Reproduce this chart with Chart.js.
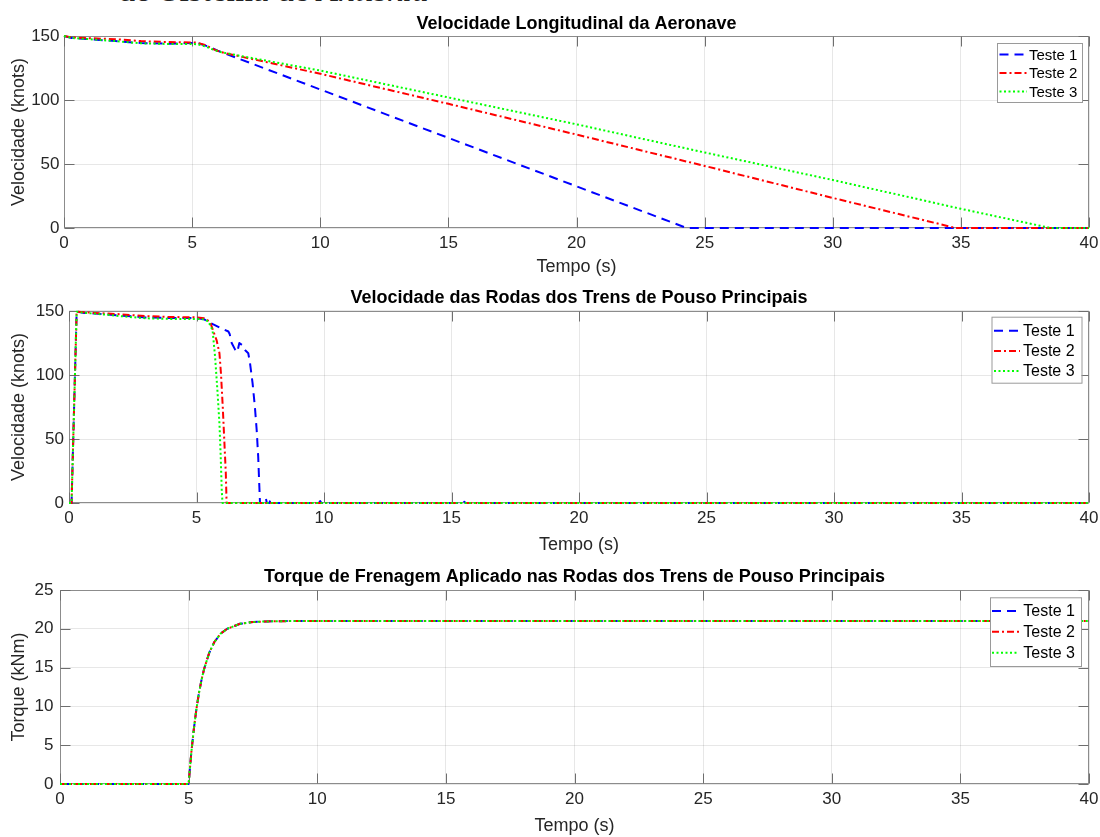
<!DOCTYPE html>
<html><head><meta charset="utf-8">
<script src="https://cdn.jsdelivr.net/npm/chart.js@4.4.0/dist/chart.umd.min.js"></script>
<style>
html,body{margin:0;padding:0;background:#fff;width:1100px;height:837px;overflow:hidden;position:relative;}
.panel{position:absolute;left:0;width:1100px;}
#top{position:absolute;left:118px;top:-27px;font-family:"Liberation Serif",serif;font-size:34px;line-height:34px;color:#222;white-space:nowrap;}
</style></head><body>
<div id="top">do Sistema de <i>Antiskid</i></div>
<div class="panel" style="top:0;height:280px"><canvas id="c1"></canvas></div>
<div class="panel" style="top:280px;height:276px"><canvas id="c2"></canvas></div>
<div class="panel" style="top:556px;height:281px"><canvas id="c3"></canvas></div>
<script>
// ---------- Data ----------
const seriesLabels = ['Teste 1', 'Teste 2', 'Teste 3'];
const xTickValues = [0, 5, 10, 15, 20, 25, 30, 35, 40];
const speedTickValues = [0, 50, 100, 150];
const torqueTickValues = [0, 5, 10, 15, 20, 25];

// Panel 1: aircraft longitudinal speed (knots)
const acftTime1 = [0, 0.3, 1, 2, 3, 4, 5, 5.3, 5.6, 6.0, 24.3, 40];
const acftSpeed1 = [150, 148.5, 147.5, 146, 144.5, 144, 144.5, 144, 142, 138.5, 0, 0];
const acftTime2 = [0, 0.3, 1, 2, 3, 4, 5, 5.2, 5.5, 5.8, 6.1, 7, 10, 15, 20, 25, 30, 34.8, 40];
const acftSpeed2 = [150, 149, 148.3, 147.5, 146, 145.3, 145, 144.8, 143, 140, 137.5, 133.5, 120.5, 97, 73, 48.5, 23.5, 0, 0];
const acftTime3 = [0, 0.3, 1, 2, 3, 4, 5, 5.2, 5.5, 5.8, 6.1, 7, 10, 15, 20, 25, 30, 35, 38.5, 40];
const acftSpeed3 = [150, 148.5, 147.5, 146, 144.3, 143.8, 143.8, 143.6, 142, 139.5, 137.5, 134, 123, 102, 81, 59, 37.5, 15, 0, 0];

// Panel 2: main landing gear wheel speed (knots)
const wheelTime1 = [0, 0.1, 0.3, 0.6, 1, 2, 3, 4, 5, 5.3, 5.66, 5.92, 6.25, 6.3, 6.38, 6.51, 6.6, 6.68, 6.78, 6.9, 7.03, 7.1, 7.2, 7.29, 7.36, 7.42, 7.46, 7.49, 7.68, 7.72, 7.76, 7.86, 7.91, 7.96, 9.8, 9.85, 9.9, 15.45, 15.5, 15.55, 40];
const wheelSpeed1 = [0, 0, 149.5, 148.5, 148, 146.5, 145, 144.5, 144.5, 143.5, 139.5, 137, 134, 132, 125, 120, 118, 125, 123.5, 119.5, 117, 109, 93.5, 75, 57, 36, 15, 0, 0, 3.5, 0, 0, 3.5, 0, 0, 1.5, 0, 0, 1, 0, 0];
const wheelTime2 = [0, 0.1, 0.3, 0.6, 1, 2, 3, 4, 5, 5.3, 5.53, 5.79, 5.9, 5.96, 6.03, 6.09, 6.15, 6.18, 40];
const wheelSpeed2 = [0, 0, 149.5, 149, 148.5, 147.5, 146, 145.3, 145, 144.3, 141.6, 127, 117, 101, 75, 49, 23, 0, 0];
const wheelTime3 = [0, 0.1, 0.3, 0.6, 1, 2, 3, 4, 5, 5.25, 5.46, 5.63, 5.73, 5.82, 5.9, 5.95, 5.99, 6.02, 40];
const wheelSpeed3 = [0, 0, 149.5, 148.5, 148, 146, 144.3, 143.8, 143.8, 143.5, 142, 135, 114, 88, 62, 36, 10, 0, 0];

// Panel 3: brake torque (kNm) - identical for the three tests
const torqueTime = [0, 5, 5.1, 5.2, 5.3, 5.4, 5.5, 5.6, 5.8, 6, 6.25, 6.5, 7, 7.5, 8, 9, 10, 40];
const torque1 = [0, 0, 3.9, 7.0, 9.6, 11.7, 13.4, 14.8, 16.9, 18.3, 19.4, 20.0, 20.65, 20.87, 20.95, 21.0, 21.0, 21.0];
const torque2 = [0, 0, 3.9, 7.0, 9.6, 11.7, 13.4, 14.8, 16.9, 18.3, 19.4, 20.0, 20.65, 20.87, 20.95, 21.0, 21.0, 21.0];
const torque3 = [0, 0, 3.9, 7.0, 9.6, 11.7, 13.4, 14.8, 16.9, 18.3, 19.4, 20.0, 20.65, 20.87, 20.95, 21.0, 21.0, 21.0];

// ---------- Styles ----------
const FONT = '"Liberation Sans", Arial, Helvetica, sans-serif';
const TXT = '#262626';
const styles = [
  {color: '#0000ff', dash: [9, 6], order: 3},
  {color: '#ff0000', dash: [7, 3, 2, 3], order: 2},
  {color: '#00ff00', dash: [2, 2.5], order: 1}
];

const pts = (t, v) => t.map((x, i) => ({x: x, y: v[i]}));

const boxPlugin = {
  id: 'mbox',
  beforeDatasetsDraw(chart) {
    const {ctx, chartArea: a, scales} = chart;
    ctx.save();
    ctx.strokeStyle = '#8c8c8c';
    ctx.lineWidth = 1;
    const L = a.left + 0.5, R = a.right - 0.5, T = a.top + 0.5, B = a.bottom - 0.5;
    ctx.strokeRect(L, T, R - L, B - T);
    ctx.strokeStyle = '#6e6e6e';
    ctx.beginPath();
    const tl = 10;
    scales.x.ticks.forEach(tk => {
      const x = Math.round(scales.x.getPixelForValue(tk.value)) + 0.5;
      ctx.moveTo(x, B); ctx.lineTo(x, B - tl);
      ctx.moveTo(x, T); ctx.lineTo(x, T + tl);
    });
    scales.y.ticks.forEach(tk => {
      const y = Math.round(scales.y.getPixelForValue(tk.value)) + 0.5;
      ctx.moveTo(L, y); ctx.lineTo(L + tl, y);
      ctx.moveTo(R, y); ctx.lineTo(R - tl, y);
    });
    ctx.stroke();
    ctx.restore();
  }
};

const legendPlugin = {
  id: 'mlegend',
  afterDraw(chart, args, o) {
    const ctx = chart.ctx;
    ctx.save();
    ctx.fillStyle = '#fff';
    ctx.fillRect(o.x, o.y, o.w, o.h);
    ctx.strokeStyle = '#9a9a9a';
    ctx.lineWidth = 1;
    ctx.strokeRect(o.x + 0.5, o.y + 0.5, o.w, o.h);
    ctx.font = o.size + 'px ' + FONT;
    ctx.textBaseline = 'middle';
    ctx.textAlign = 'left';
    seriesLabels.forEach((lab, i) => {
      const y = o.rows[i];
      ctx.strokeStyle = styles[i].color;
      ctx.lineWidth = 2;
      ctx.setLineDash(styles[i].dash);
      ctx.beginPath();
      ctx.moveTo(o.s0, y); ctx.lineTo(o.s1, y);
      ctx.stroke();
      ctx.setLineDash([]);
      ctx.fillStyle = '#000';
      ctx.fillText(lab, o.tx, y + 1);
    });
    ctx.restore();
  }
};

function makeChart(id, P) {
  const datasets = P.series.map((s, i) => ({
    label: seriesLabels[i],
    data: pts(s[0], s[1]),
    borderColor: styles[i].color,
    borderDash: styles[i].dash,
    borderWidth: 2,
    pointRadius: 0,
    fill: false,
    tension: 0,
    order: styles[i].order,
    clip: 6,
    borderCapStyle: 'butt',
    borderJoinStyle: 'round'
  }));
  return new Chart(document.getElementById(id), {
    type: 'line',
    data: {datasets},
    options: {
      responsive: true, maintainAspectRatio: false, animation: false, events: [],
      layout: {padding: {left: 0, top: 0, right: 1100 - P.area.right, bottom: 0}},
      plugins: {
        legend: {display: false},
        tooltip: {enabled: false},
        title: {
          display: true, text: P.title, fullSize: false, color: '#000',
          font: {family: FONT, size: 18, weight: 'bold', lineHeight: 1.2},
          padding: {top: P.titleTop, bottom: Math.max(0, P.area.top - P.titleTop - 21.6)}
        },
        mlegend: P.legend
      },
      scales: {
        x: {
          type: 'linear', min: 0, max: 40,
          afterBuildTicks: s => { s.ticks = xTickValues.map(v => ({value: v})); },
          afterFit: s => { s.height = P.height - P.area.bottom; s.paddingLeft = 0; s.paddingRight = 0; },
          ticks: {color: TXT, font: {family: FONT, size: 17}, padding: 5.5, maxRotation: 0, autoSkip: false},
          grid: {color: 'rgba(38,38,38,0.11)', drawTicks: false, lineWidth: 1},
          border: {display: false},
          title: {display: true, text: 'Tempo (s)', color: TXT, font: {family: FONT, size: 18, lineHeight: 1.2}, padding: {top: 0, bottom: P.xTitlePad}}
        },
        y: {
          type: 'linear', min: 0, max: P.yMax,
          afterBuildTicks: s => { s.ticks = P.yTicks.map(v => ({value: v})); },
          afterFit: s => { s.width = P.area.left; s.paddingTop = 0; s.paddingBottom = 0; },
          ticks: {color: TXT, font: {family: FONT, size: 17}, padding: P.yTickPad, autoSkip: false},
          grid: {color: 'rgba(38,38,38,0.11)', drawTicks: false, lineWidth: 1},
          border: {display: false},
          title: {display: true, text: P.yTitle, color: TXT, font: {family: FONT, size: 18, lineHeight: 1.2}, padding: {top: 8.7, bottom: 0}}
        }
      }
    },
    plugins: [boxPlugin, legendPlugin]
  });
}

makeChart('c1', {
  title: 'Velocidade Longitudinal da Aeronave',
  yTitle: 'Velocidade (knots)',
  height: 280, area: {left: 64, right: 1089, top: 36, bottom: 228},
  titleTop: 13.5, xTitlePad: 2.2, yTickPad: 4.5,
  yMax: 150, yTicks: speedTickValues,
  series: [[acftTime1, acftSpeed1], [acftTime2, acftSpeed2], [acftTime3, acftSpeed3]],
  legend: {x: 997, y: 43, w: 85, h: 59, rows: [54.5, 73, 91.5], s0: 999.5, s1: 1027, tx: 1029, size: 15}
});

makeChart('c2', {
  title: 'Velocidade das Rodas dos Trens de Pouso Principais',
  yTitle: 'Velocidade (knots)',
  height: 276, area: {left: 69, right: 1089, top: 31, bottom: 223},
  titleTop: 7.2, xTitlePad: 0.2, yTickPad: 5,
  yMax: 150, yTicks: speedTickValues,
  series: [[wheelTime1, wheelSpeed1], [wheelTime2, wheelSpeed2], [wheelTime3, wheelSpeed3]],
  legend: {x: 991.5, y: 36.7, w: 90, h: 66, rows: [50.7, 71, 91], s0: 994, s1: 1020, tx: 1023, size: 16}
});

makeChart('c3', {
  title: 'Torque de Frenagem Aplicado nas Rodas dos Trens de Pouso Principais',
  yTitle: 'Torque (kNm)',
  height: 281, area: {left: 60, right: 1089, top: 34, bottom: 228},
  titleTop: 10.2, xTitlePad: 0, yTickPad: 6.5,
  yMax: 25, yTicks: torqueTickValues,
  series: [[torqueTime, torque1], [torqueTime, torque2], [torqueTime, torque3]],
  legend: {x: 990, y: 41.3, w: 91, h: 68.7, rows: [55, 75.7, 96.7], s0: 992, s1: 1019, tx: 1023.3, size: 16}
});
</script>
</body></html>
